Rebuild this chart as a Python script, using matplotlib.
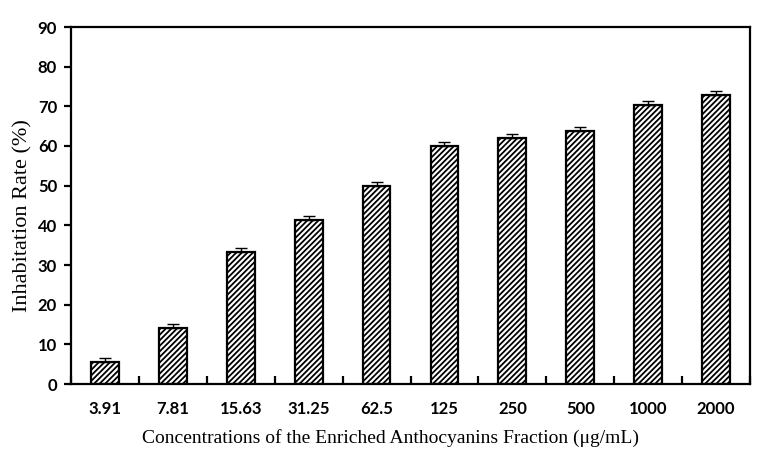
import matplotlib
matplotlib.use("Agg")
import matplotlib.pyplot as plt
import numpy as np

categories = ["3.91", "7.81", "15.63", "31.25", "62.5", "125", "250", "500", "1000", "2000"]
values = [5.5, 14.1, 33.4, 41.3, 49.8, 59.9, 62.1, 63.7, 70.3, 72.8]
errors = [1.0, 1.0, 1.0, 1.0, 1.0, 1.0, 1.0, 1.0, 1.0, 1.0]
yticks = [0, 10, 20, 30, 40, 50, 60, 70, 80, 90]

plt.rcParams['hatch.linewidth'] = 1.3
fig = plt.figure(figsize=(7.68, 4.65), dpi=100)
ax = fig.add_axes([71/768, 1-384/465, (750-71)/768, (384-27)/465])

x = np.arange(len(categories))
bars = ax.bar(x, values, width=0.41, color="white", edgecolor="black",
              linewidth=1.6, hatch="//////", zorder=2)
ax.errorbar(x, values, yerr=[np.zeros(len(errors)), errors], fmt="none",
            ecolor="black", elinewidth=1.0, capsize=4, capthick=1.0, zorder=3)

ax.set_xlim(-0.5, len(categories) - 0.5)
ax.set_ylim(0, 90)
ax.set_yticks(yticks)
ax.set_xticks(x)
ax.set_xticklabels(categories)
ax.set_xticks(np.arange(len(categories) + 1) - 0.5, minor=True)
ax.tick_params(axis="x", which="major", length=0, pad=12)
ax.tick_params(axis="x", which="minor", direction="in", length=6, width=1.6)
ax.tick_params(axis="y", direction="out", length=5, width=1.6, pad=5)
for lab in ax.get_xticklabels() + ax.get_yticklabels():
    lab.set_fontfamily("Lato")
    lab.set_fontsize(12)
    lab.set_fontweight("bold")
for s in ax.spines.values():
    s.set_linewidth(1.6)

ax.set_ylabel("Inhabitation Rate (%)", fontfamily="Liberation Serif", fontsize=16, labelpad=4)
ax.yaxis.set_label_coords(-0.057, 0.473)
ax.set_xlabel("Concentrations of the Enriched Anthocyanins Fraction (\u03bcg/mL)",
              fontfamily="Liberation Serif", fontsize=14, labelpad=9)
ax.xaxis.label.set_x(0.47)

fig.savefig("out.png", dpi=100)
